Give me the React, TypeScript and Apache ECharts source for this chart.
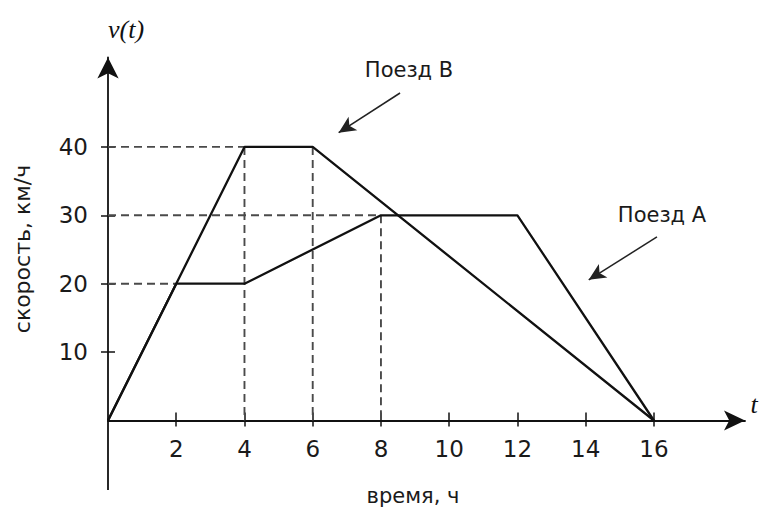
import React, { useEffect, useRef } from "react";
import * as echarts from "echarts";

const xTicks = [2, 4, 6, 8, 10, 12, 14, 16];
const yTicks = [10, 20, 30, 40];
const trainB: [number, number][] = [[0, 0], [4, 40], [6, 40], [16, 0]];
const trainA: [number, number][] = [[0, 0], [2, 20], [4, 20], [8, 30], [12, 30], [16, 0]];
const guides: [number, number][][] = [
  [[0, 40], [4, 40]],
  [[0, 30], [8, 30]],
  [[0, 20], [2, 20]],
  [[4, 40], [4, 0]],
  [[6, 40], [6, 0]],
  [[8, 30], [8, 0]],
];
const arrowB: [number, number][] = [[8.56, 47.88], [6.76, 42.08]];
const arrowA: [number, number][] = [[16.09, 26.83], [14.09, 20.57]];

const FONT = "'DejaVu Sans', Arial, sans-serif";

export default function App() {
  const ref = useRef<HTMLDivElement>(null);
  useEffect(() => {
    if (!ref.current) return;
    const chart = echarts.init(ref.current, null, { renderer: "svg" });
    const axisLine = { show: true, onZero: false, lineStyle: { color: "#111", width: 1.8 } };
    const tickStyle = { color: "#111", width: 1.5 };
    const option: any = {
      animation: false,
      backgroundColor: "#fff",
      grid: { left: 108, right: 17, top: 57.5, bottom: 88.5, containLabel: false, outerBoundsMode: "none" },
      xAxis: [
        {
          type: "value", min: 0, max: 18.67, position: "bottom", splitLine: { show: false },
          axisLine: { ...axisLine, symbol: ["none", "arrow"], symbolSize: [15, 21] },
          axisTick: { show: true, customValues: xTicks, length: 6, lineStyle: tickStyle },
          axisLabel: { show: true, customValues: xTicks, margin: 17, fontFamily: FONT, fontSize: 23, color: "#1a1a1a" },
        },
        {
          type: "value", min: 0, max: 18.67, position: "bottom", offset: 0, splitLine: { show: false },
          axisLine: { show: false, onZero: false },
          axisTick: { show: true, inside: true, customValues: xTicks, length: 8, lineStyle: tickStyle },
          axisLabel: { show: false },
        },
      ],
      yAxis: [
        {
          type: "value", min: 0, max: 53.07, position: "left", splitLine: { show: false },
          axisLine: { ...axisLine, symbol: ["none", "arrow"], symbolSize: [16, 21] },
          axisTick: { show: true, customValues: yTicks, length: 7, lineStyle: tickStyle },
          axisLabel: { show: true, customValues: yTicks, margin: 20, fontFamily: FONT, fontSize: 23, color: "#1a1a1a" },
        },
        {
          type: "value", min: 0, max: 53.07, position: "left", offset: 0, splitLine: { show: false },
          axisLine: { show: false, onZero: false },
          axisTick: { show: true, inside: true, customValues: yTicks, length: 7, lineStyle: tickStyle },
          axisLabel: { show: false },
        },
      ],
      series: [
        ...guides.map((g) => ({
          type: "line", data: g, symbol: "none", silent: true, z: 1,
          lineStyle: { color: "#4a4a4a", width: 1.9, type: [8, 5] },
        })),
        {
          type: "line", name: "Поезд В", data: trainB, symbol: "none", z: 3,
          lineStyle: { color: "#111", width: 2.3 },
          markLine: {
            silent: true, symbol: ["none", "arrow"], symbolSize: [12, 17], label: { show: false },
            lineStyle: { color: "#222", width: 1.5, type: "solid" },
            data: [[{ coord: arrowB[0] }, { coord: arrowB[1] }]],
          },
        },
        {
          type: "line", name: "Поезд А", data: trainA, symbol: "none", z: 3,
          lineStyle: { color: "#111", width: 2.3 },
          markLine: {
            silent: true, symbol: ["none", "arrow"], symbolSize: [12, 17], label: { show: false },
            lineStyle: { color: "#222", width: 1.5, type: "solid" },
            data: [[{ coord: arrowA[0] }, { coord: arrowA[1] }]],
          },
        },
      ],
      graphic: [
        { type: "line", shape: { x1: 108, y1: 420.5, x2: 108, y2: 490 }, style: { stroke: "#111", lineWidth: 1.8 } },
        { type: "text", x: 409, y: 70, style: { text: "Поезд В", fontFamily: FONT, fontSize: 21, fill: "#1a1a1a", align: "center", verticalAlign: "middle" } },
        { type: "text", x: 662, y: 215, style: { text: "Поезд А", fontFamily: FONT, fontSize: 21, fill: "#1a1a1a", align: "center", verticalAlign: "middle" } },
        { type: "text", x: 413, y: 496, style: { text: "время, ч", fontFamily: FONT, fontSize: 21, fill: "#1a1a1a", align: "center", verticalAlign: "middle" } },
        { type: "text", x: 22, y: 249, rotation: Math.PI / 2, style: { text: "скорость, км/ч", fontFamily: FONT, fontSize: 22, fill: "#1a1a1a", align: "center", verticalAlign: "middle" } },
        { type: "text", x: 126, y: 29, style: { text: "v(t)", fontFamily: "'Liberation Serif', 'DejaVu Serif', serif", fontStyle: "italic", fontSize: 26, fill: "#111", align: "center", verticalAlign: "middle" } },
        { type: "text", x: 754, y: 404, style: { text: "t", fontFamily: "'Liberation Serif', 'DejaVu Serif', serif", fontStyle: "italic", fontSize: 26, fill: "#111", align: "center", verticalAlign: "middle" } },
      ],
    };
    chart.setOption(option);
    return () => chart.dispose();
  }, []);
  return <div ref={ref} style={{ position: "absolute", left: 0, top: 0, width: 762, height: 509 }} />;
}
